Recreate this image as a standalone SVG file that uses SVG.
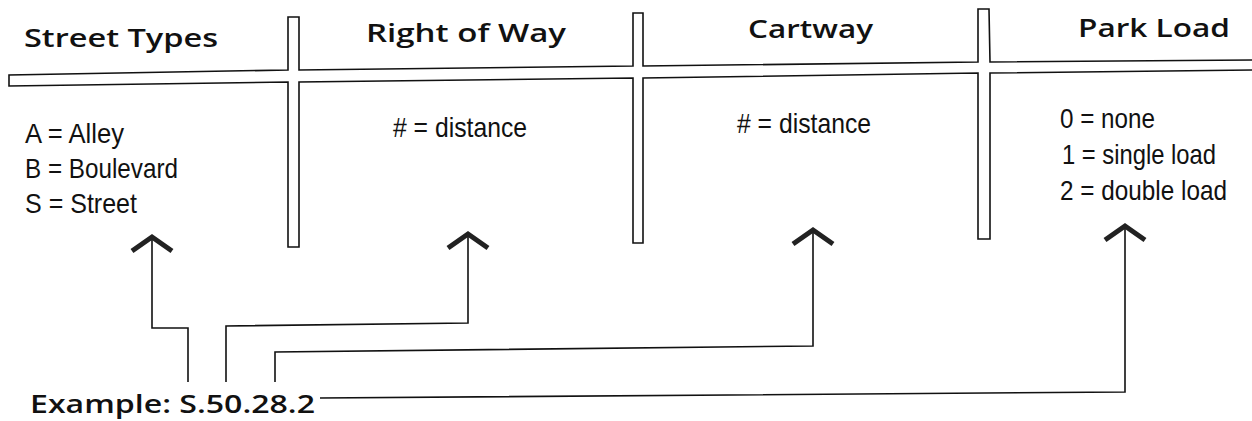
<svg xmlns="http://www.w3.org/2000/svg" width="1252" height="421" viewBox="0 0 1252 421">
<style>
.hd{font-family:"Open Sans","Noto Sans",sans-serif;font-weight:600;font-size:25px;fill:#111}
.bd{font-family:"Liberation Sans",Arial,sans-serif;font-size:28px;fill:#111}
.frame{fill:none;stroke:#111;stroke-width:1.6;stroke-linejoin:miter}
.conn{fill:none;stroke:#111;stroke-width:1.6}
</style>
<defs>
<marker id="chev" markerUnits="userSpaceOnUse" viewBox="-25 -25 35 50" markerWidth="35" markerHeight="50" refX="0" refY="0" orient="auto" overflow="visible">
<path d="M-14,-20 L0,0 L-14,20" fill="none" stroke="#222" stroke-width="5"/>
</marker>
</defs>
<rect width="1252" height="421" fill="#fff"/>
<g id="frame">
<path class="frame" d="M1252,60 L990,62 L989,9 L978,9 L978,62 L643,66 L643,13 L633,13 L633,66 L299,70 L299,17 L288,17 L288,70 L9,75 L9,86 L288,82 L288,247 L299,247 L299,82 L633,78 L633,243 L643,243 L643,78 L978,73 L978,239 L990,239 L990,73 L1252,70"/>
</g>
<g id="street-types">
<text class="hd" x="24" y="47" textLength="194" lengthAdjust="spacingAndGlyphs">Street Types</text>
<text class="bd" x="25" y="143" textLength="99" lengthAdjust="spacingAndGlyphs">A = Alley</text>
<text class="bd" x="25" y="178" textLength="153" lengthAdjust="spacingAndGlyphs">B = Boulevard</text>
<text class="bd" x="25" y="213" textLength="112" lengthAdjust="spacingAndGlyphs">S = Street</text>
</g>
<g id="right-of-way">
<text class="hd" x="366" y="42" textLength="200" lengthAdjust="spacingAndGlyphs">Right of Way</text>
<text class="bd" x="393" y="137" textLength="134" lengthAdjust="spacingAndGlyphs"># = distance</text>
</g>
<g id="cartway">
<text class="hd" x="748" y="38" textLength="125" lengthAdjust="spacingAndGlyphs">Cartway</text>
<text class="bd" x="737" y="133" textLength="134" lengthAdjust="spacingAndGlyphs"># = distance</text>
</g>
<g id="park-load">
<text class="hd" x="1078" y="37" textLength="152" lengthAdjust="spacingAndGlyphs">Park Load</text>
<text class="bd" x="1060" y="128" textLength="95" lengthAdjust="spacingAndGlyphs">0 = none</text>
<text class="bd" x="1062" y="164" textLength="154" lengthAdjust="spacingAndGlyphs">1 = single load</text>
<text class="bd" x="1060" y="200" textLength="167" lengthAdjust="spacingAndGlyphs">2 = double load</text>
</g>
<g id="example">
<text class="hd" x="30" y="413" textLength="285" lengthAdjust="spacingAndGlyphs">Example: S.50.28.2</text>
</g>
<g id="connectors">
<path class="conn" d="M188,382 V328 H152 V237" marker-end="url(#chev)"/>
<path class="conn" d="M226,382 V326 L468,323 V234" marker-end="url(#chev)"/>
<path class="conn" d="M275,382 V352 L813,346 V230" marker-end="url(#chev)"/>
<path class="conn" d="M320,398 L1125,392 V226" marker-end="url(#chev)"/>
</g>
</svg>
